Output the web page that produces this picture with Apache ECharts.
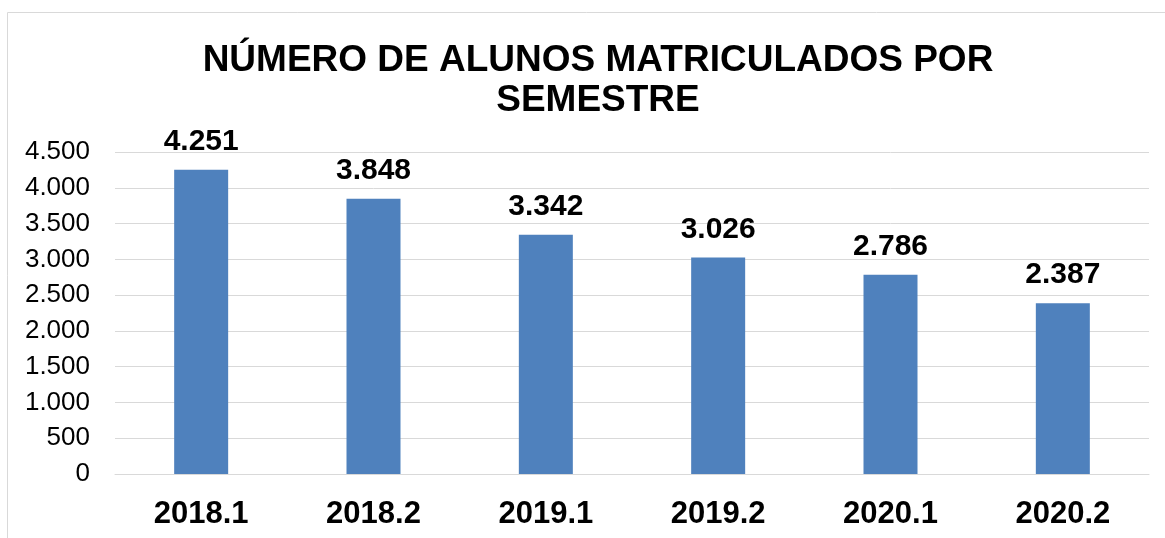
<!DOCTYPE html>
<html>
<head>
<meta charset="utf-8">
<script src="https://cdn.jsdelivr.net/npm/echarts@6/dist/echarts.min.js"></script>
<style>
html, body { margin: 0; padding: 0; background: #fff; }
#view { width: 1165px; height: 538px; }
</style>
</head>
<body>
<div id="view"></div>
<script>
var semestres = ['2018.1', '2018.2', '2019.1', '2019.2', '2020.1', '2020.2'];
var alunos = [4251, 3848, 3342, 3026, 2786, 2387];

var myChart = echarts.init(document.getElementById('view'));

function milhar(v) {
    return String(v).replace(/\B(?=(\d{3})+(?!\d))/g, '.');
}

var option = {
    animation: false,
    textStyle: { fontFamily: 'Liberation Sans, Arial, sans-serif' },
    graphic: [{
        type: 'rect',
        shape: { x: 7.5, y: 12.5, width: 1180, height: 560 },
        style: { fill: 'none', stroke: '#d9d9d9', lineWidth: 1 },
        silent: true
    }],
    title: {
        text: 'NÚMERO DE ALUNOS MATRICULADOS POR\nSEMESTRE',
        left: 593,
        top: 36,
        textAlign: 'center',
        textStyle: {
            fontSize: 37,
            fontWeight: 'bold',
            color: '#000',
            lineHeight: 40,
            fontFamily: 'Liberation Sans, Arial, sans-serif'
        }
    },
    grid: {
        left: 115,
        right: 16,
        top: 152,
        bottom: 64,
        containLabel: false
    },
    xAxis: {
        type: 'category',
        data: semestres,
        axisTick: { show: false },
        axisLine: { lineStyle: { color: '#d9d9d9', width: 1 } },
        axisLabel: {
            color: '#000',
            fontSize: 31,
            fontWeight: 'bold',
            margin: 25
        }
    },
    yAxis: {
        type: 'value',
        min: 0,
        max: 4500,
        interval: 500,
        axisLine: { show: false },
        axisTick: { show: false },
        splitLine: { lineStyle: { color: '#d9d9d9', width: 1 } },
        axisLabel: {
            color: '#000',
            fontSize: 26,
            margin: 25,
            formatter: function (v) { return milhar(v); }
        }
    },
    series: [{
        type: 'bar',
        data: alunos,
        barWidth: 54,
        itemStyle: { color: '#4f81bd' },
        label: {
            show: true,
            position: 'top',
            distance: 13,
            color: '#000',
            fontSize: 30,
            fontWeight: 'bold',
            formatter: function (p) { return milhar(p.value); }
        }
    }]
};

myChart.setOption(option);
</script>
</body>
</html>
